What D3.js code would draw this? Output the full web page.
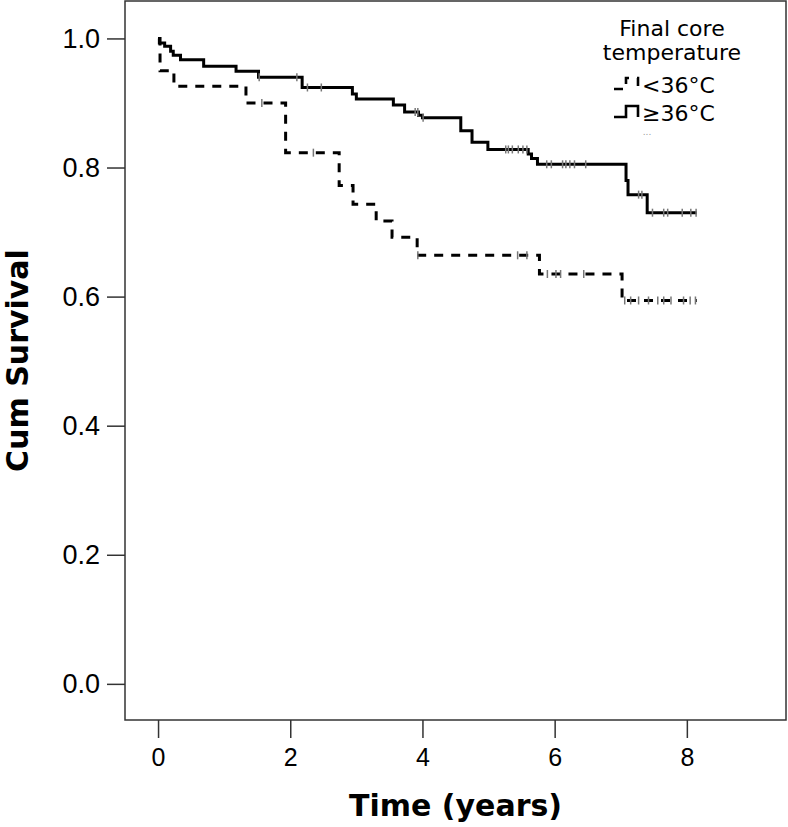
<!DOCTYPE html>
<html lang="en">
<head>
<meta charset="UTF-8"/>
<title>Cum Survival by final core temperature</title>
<style>
  body { margin: 0; background: #ffffff; }
  svg { display: block; font-family: "DejaVu Sans", sans-serif; }
  .axis path.domain { display: none; }
  .axis line { stroke: #333; stroke-width: 1.5; }
  .axis text { fill: #000; }
  .axis_title { font-weight: bold; font-size: 30px; fill: #000; }
  .legend text { font-size: 22px; fill: #000; }
</style>
</head>
<body>
<svg width="788" height="827"></svg>
<script src="https://d3js.org/d3.v7.min.js"></script>
<script>
// step points of the two Kaplan-Meier curves (time in years, cum survival)
const warmTimes = [0, 0.02, 0.1, 0.19, 0.23, 0.34, 0.69, 1.18, 1.52, 2.18, 2.94, 3.0, 3.56, 3.73, 3.94, 4.0, 4.58, 4.75, 4.99, 5.6, 5.65, 5.74, 7.08, 7.11, 7.4, 8.15];
const warmSurv  = [1.0, 0.993, 0.988, 0.98, 0.974, 0.967, 0.957, 0.949, 0.94, 0.924, 0.914, 0.906, 0.897, 0.886, 0.881, 0.877, 0.857, 0.839, 0.828, 0.821, 0.814, 0.805, 0.78, 0.758, 0.73, 0.73];
const warmCensor = [1.53, 2.1, 2.26, 2.47, 3.89, 3.93, 4.01, 5.26, 5.3, 5.36, 5.45, 5.52, 5.58, 5.88, 5.95, 6.12, 6.17, 6.23, 6.3, 6.47, 7.27, 7.32, 7.48, 7.65, 7.71, 7.93, 8.06, 8.14];

const coldTimes = [0, 0.03, 0.24, 1.33, 1.93, 2.74, 2.95, 3.3, 3.54, 3.92, 5.77, 7.02, 8.15];
const coldSurv  = [1.0, 0.95, 0.926, 0.9, 0.823, 0.772, 0.743, 0.717, 0.692, 0.664, 0.635, 0.594, 0.594];
const coldCensor = [1.57, 2.35, 3.93, 5.44, 5.58, 5.89, 6.02, 6.09, 6.44, 7.06, 7.15, 7.27, 7.42, 7.56, 7.65, 7.76, 7.95, 8.05, 8.13];

const xTicks = [0, 2, 4, 6, 8];
const yTicks = [0, 0.2, 0.4, 0.6, 0.8, 1.0];
const legendTitle = ["Final core", "temperature"];
const legendLabels = ["<36°C", "≥36°C"];

const svg = d3.select('svg');

const plotLeft = 125, plotRight = 786, plotTop = 1, plotBottom = 720;

const xScale = d3.scaleLinear().domain([-0.5, 9.5]).range([plotLeft, plotRight]);
const yScale = d3.scaleLinear().domain([-0.056, 1.058]).range([plotBottom, plotTop]);

// frame
svg.append('rect')
  .attr('x', plotLeft).attr('y', plotTop)
  .attr('width', plotRight - plotLeft).attr('height', plotBottom - plotTop)
  .attr('fill', 'none').attr('stroke', '#333').attr('stroke-width', 1.5);

// axes
svg.append('g')
  .attr('class', 'axis')
  .attr('transform', `translate(${plotLeft}, 0)`)
  .call(d3.axisLeft(yScale).tickValues(yTicks).tickSize(18).tickPadding(7).tickFormat(d3.format('.1f')))
  .selectAll('text').style('font-size', '27px');

svg.append('g')
  .attr('class', 'axis')
  .attr('transform', `translate(0, ${plotBottom})`)
  .call(d3.axisBottom(xScale).tickValues(xTicks).tickSize(18).tickPadding(10).tickFormat(d3.format('d')))
  .selectAll('text').style('font-size', '25px');

// axis titles
svg.append('text')
  .attr('class', 'axis_title')
  .attr('x', (plotLeft + plotRight) / 2)
  .attr('y', 816)
  .attr('text-anchor', 'middle')
  .text('Time (years)');

svg.append('text')
  .attr('class', 'axis_title')
  .attr('transform', `translate(28, ${(plotTop + plotBottom) / 2}) rotate(-90)`)
  .attr('text-anchor', 'middle')
  .text('Cum Survival');

// curves
const stepLine = d3.line()
  .x(d => xScale(d[0]))
  .y(d => yScale(d[1]))
  .curve(d3.curveStepAfter);

function survAt(times, surv, t) {
  const i = d3.bisectRight(times, t) - 1;
  return surv[Math.max(0, i)];
}

function drawCurve(times, surv, censor, dashed) {
  const g = svg.append('g');
  g.append('path')
    .datum(d3.zip(times, surv))
    .attr('d', stepLine)
    .attr('fill', 'none')
    .attr('stroke', '#000')
    .attr('stroke-width', 3)
    .attr('stroke-dasharray', dashed ? '9,8' : null);

  g.selectAll('line.censor')
    .data(censor)
    .enter()
    .append('line')
    .attr('class', 'censor')
    .attr('x1', t => xScale(t)).attr('x2', t => xScale(t))
    .attr('y1', t => yScale(survAt(times, surv, t)) - 4)
    .attr('y2', t => yScale(survAt(times, surv, t)) + 4)
    .attr('stroke', '#777')
    .attr('stroke-width', 1.5);
}

drawCurve(coldTimes, coldSurv, coldCensor, true);
drawCurve(warmTimes, warmSurv, warmCensor, false);

// legend
const legend = svg.append('g').attr('class', 'legend');

legend.selectAll('text.title')
  .data(legendTitle)
  .enter()
  .append('text')
  .attr('class', 'title')
  .attr('x', 672)
  .attr('y', (d, i) => 36 + i * 24)
  .attr('text-anchor', 'middle')
  .text(d => d);

legendLabels.forEach((label, i) => {
  const base = 93 + i * 28;
  const p = d3.path();
  p.moveTo(614, base - 4);
  p.lineTo(626, base - 4);
  p.lineTo(626, base - 15);
  p.lineTo(638, base - 15);
  p.lineTo(638, base - 4);
  legend.append('path')
    .attr('d', p.toString())
    .attr('fill', 'none')
    .attr('stroke', '#000')
    .attr('stroke-width', 2.6)
    .attr('stroke-dasharray', i === 0 ? '9,8' : null);
  legend.append('text')
    .attr('x', 642)
    .attr('y', base)
    .text(label);
});

legend.append('text')
  .attr('x', 647)
  .attr('y', 135)
  .attr('text-anchor', 'middle')
  .style('font-size', '9px')
  .style('fill', '#999')
  .text('...');
</script>
</body>
</html>
